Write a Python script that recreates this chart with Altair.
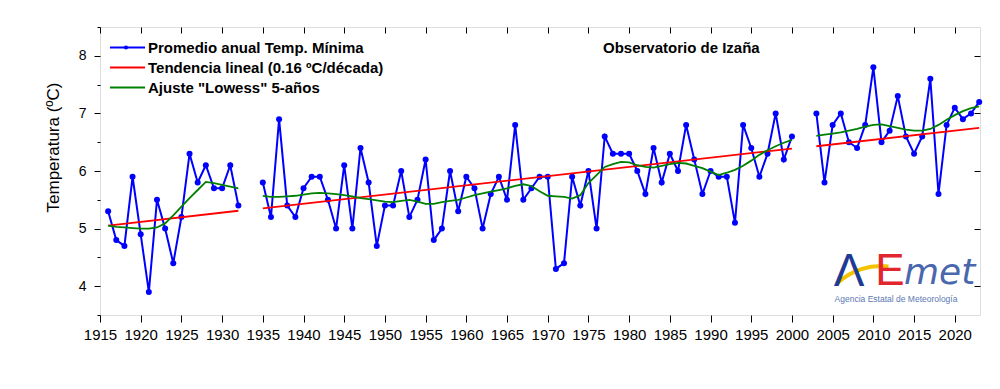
import altair as alt
import pandas as pd

SER_BLUE = "Promedio anual Temp. Mínima"
SER_RED = "Tendencia lineal (0.16 ºC/década)"
SER_GREEN = 'Ajuste "Lowess" 5-años'

years_a = list(range(1916, 1933))
temps_a = [5.3, 4.8, 4.7, 5.9, 4.9, 3.9, 5.5, 5.0, 4.4, 5.2, 6.3, 5.8, 6.1, 5.7, 5.7, 6.1, 5.4]
lowess_a = [5.05, 5.03, 5.02, 5.01, 5.00, 5.00, 5.02, 5.09, 5.23, 5.38, 5.53, 5.67, 5.81, 5.79, 5.76, 5.73, 5.70]

years_b = list(range(1935, 2001))
temps_b = [5.8, 5.2, 6.9, 5.4, 5.2,
           5.7, 5.9, 5.9, 5.5, 5.0, 6.1, 5.0, 6.4, 5.8, 4.7,
           5.4, 5.4, 6.0, 5.2, 5.5, 6.2, 4.8, 5.0, 6.0, 5.3,
           5.9, 5.7, 5.0, 5.6, 5.9, 5.5, 6.8, 5.5, 5.7, 5.9,
           5.9, 4.3, 4.4, 5.9, 5.4, 6.0, 5.0, 6.6, 6.3, 6.3,
           6.3, 6.0, 5.6, 6.4, 5.8, 6.3, 6.0, 6.8, 6.2, 5.6,
           6.0, 5.9, 5.9, 5.1, 6.8, 6.4, 5.9, 6.3, 7.0, 6.2, 6.6]
lowess_b = [5.57, 5.55, 5.55, 5.56, 5.57,
            5.59, 5.61, 5.62, 5.61, 5.60, 5.58, 5.56, 5.53, 5.51, 5.49,
            5.47, 5.46, 5.48, 5.50, 5.47, 5.43, 5.43, 5.46, 5.48, 5.50,
            5.54, 5.58, 5.61, 5.64, 5.67, 5.70, 5.74, 5.77, 5.74, 5.65,
            5.57, 5.56, 5.55, 5.52, 5.58, 5.79, 5.93, 6.07, 6.12, 6.16,
            6.15, 6.10, 6.07, 6.06, 6.09, 6.12, 6.14, 6.13, 6.09, 6.05,
            5.99, 5.93, 5.97, 6.02, 6.09, 6.18, 6.28, 6.36, 6.43, 6.49, 6.54]

years_c = list(range(2003, 2024))
temps_c = [7.0, 5.8, 6.8, 7.0, 6.5, 6.4, 6.8, 7.8, 6.5, 6.7, 7.3, 6.6, 6.3, 6.6, 7.6, 5.6, 6.8, 7.1, 6.9, 7.0, 7.2]
lowess_c = [6.61, 6.63, 6.65, 6.67, 6.70, 6.73, 6.77, 6.80, 6.81, 6.78, 6.75, 6.72, 6.70, 6.70, 6.73, 6.80, 6.89, 6.97, 7.04, 7.09, 7.12]

trend_years = [1916, 1932, 1935, 2000, 2003, 2023]
trend_vals = [5.05, 5.31, 5.35, 6.39, 6.43, 6.75]
trend_segs = ["a", "a", "b", "b", "c", "c"]

x_ticks = list(range(1915, 2021, 5))
y_ticks = [3.5, 4, 4.5, 5, 5.5, 6, 6.5, 7, 7.5, 8, 8.5]
y_ticks_right = [4, 5, 6, 7, 8]

FONT = "Liberation Sans"

# ---- data frames
def seg_frame(years, vals, seg, series):
    return pd.DataFrame({"year": years, "value": vals, "seg": seg, "series": series})

blue_df = pd.concat([
    seg_frame(years_a, temps_a, "a", SER_BLUE),
    seg_frame(years_b, temps_b, "b", SER_BLUE),
    seg_frame(years_c, temps_c, "c", SER_BLUE),
], ignore_index=True)
blue_df["dotkey"] = SER_BLUE

red_df = pd.DataFrame({"year": trend_years, "value": trend_vals,
                       "seg": ["r" + s for s in trend_segs], "series": SER_RED})
green_df = pd.concat([
    seg_frame(years_a, lowess_a, "ga", SER_GREEN),
    seg_frame(years_b, lowess_b, "gb", SER_GREEN),
    seg_frame(years_c, lowess_c, "gc", SER_GREEN),
], ignore_index=True)
rg_df = pd.concat([red_df, green_df], ignore_index=True)

xscale = alt.Scale(domain=[1915, 2023.1], nice=False, zero=False)
yscale = alt.Scale(domain=[3.5, 8.5], nice=False, zero=False)
color_scale = alt.Scale(domain=[SER_BLUE, SER_RED, SER_GREEN],
                        range=["#0000ff", "#ff0000", "#008000"])

# legend line symbol: a horizontal stroke 4x wider than its nominal size
legend_spec = alt.Legend(
    title=None, orient="none", legendX=20, legendY=13, padding=0,
    symbolType="M-4,0H4", symbolSize=77, symbolStrokeWidth=2,
    labelFont=FONT, labelFontSize=15, labelFontWeight="bold", labelColor="black",
    labelOffset=13, labelLimit=500, rowPadding=4,
)
dot_legend = alt.Legend(
    title=None, orient="none", legendX=23.5, legendY=18, padding=0,
    symbolType="circle", symbolSize=18, symbolFillColor="#0000ff",
    symbolStrokeWidth=0, symbolOpacity=1,
    labelExpr="''", labelFontSize=1, labelOffset=0,
)

x_bottom = alt.Axis(values=x_ticks, format="d", domain=False, grid=False, title=None,
                    tickSize=7, tickColor="black", labelFont=FONT, labelFontSize=15,
                    labelColor="black", labelPadding=5, labelFlush=False)
y_left = alt.Axis(values=y_ticks, domain=False, grid=False,
                  labelExpr="datum.value % 1 === 0 ? format(datum.value, 'd') : ''",
                  tickSize={"condition": {"test": "datum.value % 1 === 0", "value": 6}, "value": 3},
                  tickColor="black", labelFont=FONT, labelFontSize=14, labelColor="black",
                  labelPadding=8, title="Temperatura (ºC)", titleFont=FONT, titleFontSize=17,
                  titleFontWeight="normal", titleColor="black", titleX=-38, titleY=120)
x_top = alt.Axis(orient="top", values=x_ticks, labels=False, domain=False, grid=False,
                 title=None, tickSize=6, offset=-6, tickColor="black")
y_right = alt.Axis(orient="right", values=y_ticks_right, labels=False, domain=False, grid=False,
                   title=None, tickSize=6, offset=-6, tickColor="black")

blue_line = alt.Chart(blue_df).mark_line(strokeWidth=2).encode(
    x=alt.X("year:Q", scale=xscale, axis=x_bottom),
    y=alt.Y("value:Q", scale=yscale, axis=y_left),
    color=alt.Color("series:N", scale=color_scale, legend=legend_spec),
    detail="seg:N",
)

blue_pts = alt.Chart(blue_df).mark_point(filled=True, size=36, opacity=1).encode(
    x=alt.X("year:Q", scale=xscale, axis=None),
    y=alt.Y("value:Q", scale=yscale, axis=None),
    color=alt.value("#0000ff"),
    shape=alt.Shape("dotkey:N", scale=alt.Scale(range=["circle"]), legend=dot_legend),
)

rg_lines = alt.Chart(rg_df).mark_line(strokeWidth=1.8).encode(
    x=alt.X("year:Q", scale=xscale, axis=x_top),
    y=alt.Y("value:Q", scale=yscale, axis=y_right),
    color=alt.Color("series:N", scale=color_scale, legend=legend_spec),
    detail="seg:N",
)

one = pd.DataFrame({"k": [0]})
station = alt.Chart(pd.DataFrame({"t": ["Observatorio de Izaña"]})).mark_text(
    font=FONT, fontSize=15, fontWeight="bold", align="left", baseline="middle", color="black"
).encode(x=alt.value(503), y=alt.value(20.5), text="t:N")

# AEMET logo (decorative)
swoosh = alt.Chart(one).mark_arc(radius=66, radius2=62, theta=5.54, theta2=6.40,
                                 color="#f4c300").encode(x=alt.value(781), y=alt.value(303))
logo_a = alt.Chart(pd.DataFrame({"t": ["Λ"]})).mark_text(
    font=FONT, fontSize=46, color="#1f3a93", align="center", baseline="alphabetic"
).encode(x=alt.value(749), y=alt.value(259), text="t:N")
logo_e = alt.Chart(pd.DataFrame({"t": ["E"]})).mark_text(
    font=FONT, fontSize=44, color="#e3262e", align="center", baseline="alphabetic"
).encode(x=alt.value(790), y=alt.value(258), text="t:N")
logo_met = alt.Chart(pd.DataFrame({"t": ["met"]})).mark_text(
    font="DejaVu Sans", fontSize=36, fontStyle="italic", color="#4a67ad", align="left",
    baseline="alphabetic"
).encode(x=alt.value(804), y=alt.value(257), text="t:N")
logo_sub = alt.Chart(pd.DataFrame({"t": ["Agencia Estatal de Meteorología"]})).mark_text(
    font=FONT, fontSize=8.5, color="#5a78b5", align="center", baseline="middle"
).encode(x=alt.value(796), y=alt.value(272), text="t:N")

chart = alt.layer(
    blue_line, blue_pts, rg_lines, station, swoosh, logo_a, logo_e, logo_met, logo_sub
).resolve_axis(x="independent", y="independent").properties(
    width=880, height=288,
    autosize=alt.AutoSizeParams(type="none"),
    padding={"left": 92, "top": 19, "right": 12, "bottom": 55},
).configure_view(stroke="black", strokeWidth=1.5).configure(background="white")

chart.save("out.html", embed_options={"renderer": "svg", "actions": False})
